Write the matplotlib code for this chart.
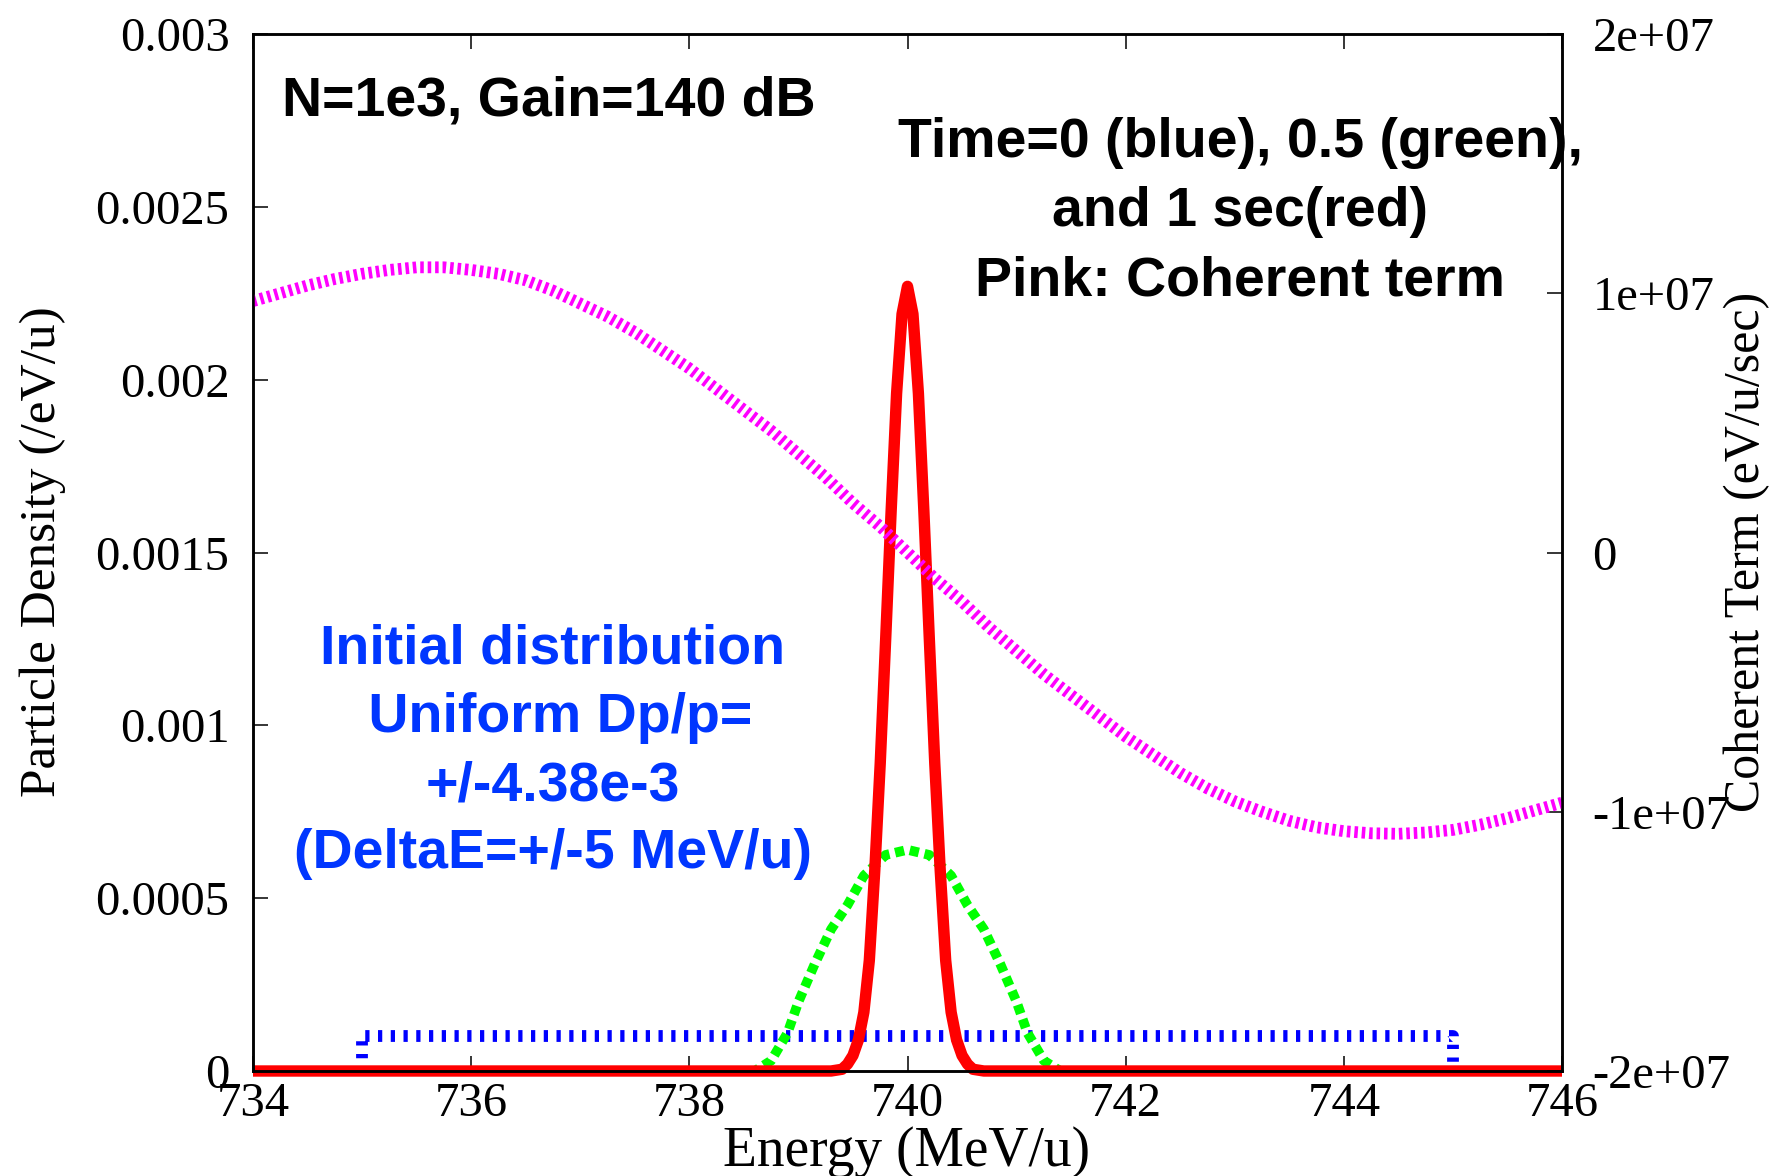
import matplotlib
matplotlib.use("Agg")
import matplotlib.pyplot as plt

W, H = 1772, 1176          # output size in px (dpi 100)
SERIF = ["Liberation Serif", "DejaVu Serif"]
SANS = ["Liberation Sans", "DejaVu Sans"]

# --- data -----------------------------------------------------------------
# particle density in 1e-3 /eV/u, energy in MeV/u
blue_e = [735.0, 735.0, 745.0, 745.0]          # t = 0, uniform
blue_v = [0.0, 0.1, 0.1, 0.0]

green_e = [734.0, 738.6, 738.75, 738.9, 739.0, 739.15, 739.3, 739.45, 739.6, 739.8,
           740.0, 740.2, 740.4, 740.55, 740.7, 740.85, 741.0, 741.1, 741.25, 741.4, 746.0]
green_v = [0.0, 0.0, 0.03, 0.11, 0.20, 0.31, 0.41, 0.48, 0.565, 0.625,
           0.64, 0.625, 0.565, 0.48, 0.41, 0.31, 0.20, 0.11, 0.03, 0.0, 0.0]   # t = 0.5 s

red_e = [734.0, 739.3, 739.4, 739.45, 739.5, 739.55, 739.6, 739.65, 739.7, 739.75,
         739.8, 739.85, 739.9, 739.95, 740.0, 740.05, 740.1, 740.15, 740.2, 740.25,
         740.3, 740.35, 740.4, 740.45, 740.5, 740.55, 740.6, 740.7, 746.0]
red_v = [0.0, 0.0, 0.005, 0.02, 0.045, 0.09, 0.17, 0.32, 0.58, 0.89,
         1.25, 1.62, 1.96, 2.19, 2.27, 2.19, 1.96, 1.62, 1.25, 0.89,
         0.58, 0.32, 0.17, 0.09, 0.045, 0.02, 0.005, 0.0, 0.0]                 # t = 1 s

# coherent term in 1e7 eV/u/sec
pink_e = [734.0, 734.25, 734.5, 734.75, 735.0, 735.25, 735.5, 735.75, 736.0, 736.25,
          736.5, 736.75, 737.0, 737.25, 737.5, 737.75, 738.0, 738.25, 738.5, 738.75,
          739.0, 739.25, 739.5, 739.75, 740.0, 740.25, 740.5, 740.75, 741.0, 741.25,
          741.5, 741.75, 742.0, 742.25, 742.5, 742.75, 743.0, 743.25, 743.5, 743.75,
          744.0, 744.25, 744.5, 744.75, 745.0, 745.25, 745.5, 745.75, 746.0]
pink_v = [0.97, 1.00, 1.03, 1.055, 1.075, 1.09, 1.10, 1.10, 1.09, 1.075,
          1.05, 1.01, 0.96, 0.91, 0.85, 0.78, 0.71, 0.63, 0.55, 0.47,
          0.38, 0.29, 0.19, 0.10, 0.0, -0.10, -0.19, -0.29, -0.38, -0.47,
          -0.55, -0.63, -0.71, -0.78, -0.85, -0.91, -0.96, -1.00, -1.035, -1.06,
          -1.075, -1.083, -1.085, -1.08, -1.07, -1.05, -1.025, -0.995, -0.965]

x_ticks = [734, 736, 738, 740, 742, 744, 746]
y_ticks = [0, 0.5, 1.0, 1.5, 2.0, 2.5, 3.0]
y_labels = ["0", "0.0005", "0.001", "0.0015", "0.002", "0.0025", "0.003"]
y2_ticks = [-2, -1, 0, 1, 2]
y2_labels = ["-2e+07", "-1e+07", "0", "1e+07", "2e+07"]

blue_note = ["Initial distribution", " Uniform Dp/p=", "+/-4.38e-3", "(DeltaE=+/-5 MeV/u)"]
time_note = ["Time=0 (blue), 0.5 (green),", "and 1 sec(red)", "Pink: Coherent term"]


def fx(px):
    return px / W


def fy(py):
    return 1 - py / H


fig = plt.figure(figsize=(W / 100, H / 100), dpi=100)
ax = fig.add_axes([fx(253), fy(1071), fx(1562 - 253), (1071 - 34) / H])
ax2 = ax.twinx()

ax.plot(blue_e, blue_v, color="#0000ff", lw=8.5, ls=(0, (0.36, 0.72)), clip_on=False, zorder=2)
ax.plot(green_e, green_v, color="#00ff00", lw=7, ls=(0, (0.95, 0.6)), clip_on=False, zorder=2.1)
ax.plot(red_e, red_v, color="#ff0000", lw=8.2, solid_capstyle="butt", clip_on=False, zorder=2.2)
ax2.plot(pink_e, pink_v, color="#ff00ff", lw=8.5, ls=(0, (0.3, 0.33)))

ax.set_xlim(734, 746)
ax.set_ylim(0, 3)
ax2.set_ylim(-2, 2)

ax.set_xticks(x_ticks)
ax.set_xticklabels([str(t) for t in x_ticks], family=SERIF, fontsize=35)
ax.set_yticks(y_ticks)
ax.set_yticklabels(y_labels, family=SERIF, fontsize=35)
ax2.set_yticks(y2_ticks)
ax2.set_yticklabels(y2_labels, family=SERIF, fontsize=35)

ax.tick_params(axis="x", direction="in", top=True, length=11, width=1.1, pad=8)
ax.tick_params(axis="y", direction="in", right=False, length=11, width=1.1, pad=17)
ax2.tick_params(axis="y", direction="in", left=False, length=11, width=1.1, pad=22)
for a in (ax, ax2):
    for s in a.spines.values():
        s.set_linewidth(1.8)

fig.text(fx(907), fy(1166), "Energy (MeV/u)", family=SERIF, fontsize=40,
         ha="center", va="baseline")
fig.text(fx(43), fy(552), "Particle Density (/eV/u)", family=SERIF, fontsize=37,
         rotation=90, ha="center", va="center")
fig.text(fx(1747), fy(552), "Coherent Term (eV/u/sec)", family=SERIF, fontsize=36,
         rotation=90, ha="center", va="center")

fig.text(fx(282), fy(116), "N=1e3, Gain=140 dB", family=SANS, weight="bold",
         fontsize=40, va="baseline")
for i, line in enumerate(time_note):
    fig.text(fx(1240), fy(157 + 69 * i), line, family=SANS, weight="bold",
             fontsize=40, ha="center", va="baseline")
for i, line in enumerate(blue_note):
    fig.text(fx(553), fy(664 + 68 * i), line, family=SANS, weight="bold",
             fontsize=40, ha="center", va="baseline", color="#0036ff")

fig.savefig("out.png", dpi=100)
